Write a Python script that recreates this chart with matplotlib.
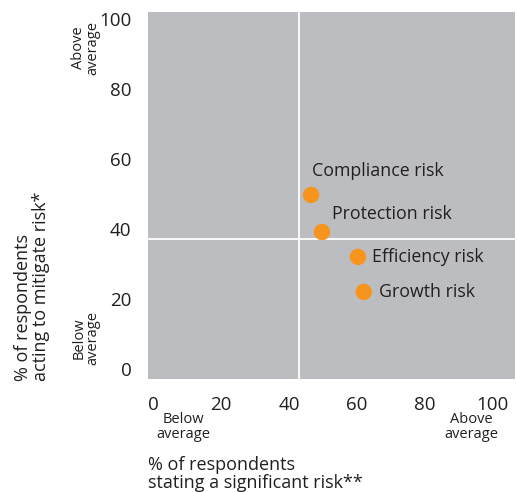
import matplotlib.pyplot as plt

# Risk categories: share stating a significant risk (x) vs share acting to mitigate it (y)
risks = ['Compliance risk', 'Protection risk', 'Efficiency risk', 'Growth risk']
stating = [46.5, 49.7, 60.3, 62.0]
acting = [49.7, 39.1, 32.0, 22.0]

# Averages drawn as white cross-hairs
avg_stating = 43
avg_acting = 37

ticks = [0, 20, 40, 60, 80, 100]

GREY = '#bcbdc1'
ORANGE = '#f7941d'
INK = '#231f20'

plt.rcParams['font.family'] = ['Open Sans', 'DejaVu Sans']

fig = plt.figure(figsize=(5.17, 4.92), dpi=100)
ax = fig.add_axes([148 / 517, 113 / 492, 367 / 517, 367 / 492])
ax.set_facecolor(GREY)
for s in ax.spines.values():
    s.set_visible(False)

ax.set_xlim(-1.5, 106.5)
ax.set_ylim(-2.9, 102)

ax.axvline(avg_stating, color='white', lw=1.3, zorder=1)
ax.axhline(avg_acting, color='white', lw=1.3, zorder=1)

ax.scatter(stating, acting, s=140, color=ORANGE, edgecolor='none', zorder=3)

# label offsets in points (dx, dy)
offsets = [(1, 17), (7, 13), (10, 0), (11, 0)]
for name, x, y, (dx, dy) in zip(risks, stating, acting, offsets):
    ax.annotate(name, (x, y), xytext=(dx, dy), textcoords='offset points',
                ha='left', va='center', fontsize=12.8, color=INK)

ax.set_xticks(ticks)
ax.set_yticks(ticks)
ax.tick_params(length=0, labelsize=13.5, labelcolor=INK)
ax.tick_params(axis='x', pad=12)
ax.tick_params(axis='y', pad=12)

# quadrant hints along the axes
hint = dict(fontsize=10.5, color=INK, linespacing=0.95)
fig.text(183 / 517, 1 - 427 / 492, 'Below\naverage', ha='center', va='center', **hint)
fig.text(471 / 517, 1 - 427 / 492, 'Above\naverage', ha='center', va='center', **hint)
fig.text(86 / 517, 1 - 338 / 492, 'Below\naverage', ha='center', va='center',
         rotation=90, **hint)
fig.text(86 / 517, 1 - 48 / 492, 'Above\naverage', ha='center', va='center',
         rotation=90, **hint)

# axis titles
fig.text(148 / 517, 1 - 474 / 492, '% of respondents\nstating a significant risk**',
         ha='left', va='center', fontsize=13, color=INK, linespacing=0.95)
fig.text(32 / 517, 1 - 381 / 492, '% of respondents\nacting to mitigate risk*',
         ha='center', va='bottom', rotation=90, fontsize=13, color=INK,
         linespacing=0.95, multialignment='left')

fig.savefig('out.png', dpi=100)
